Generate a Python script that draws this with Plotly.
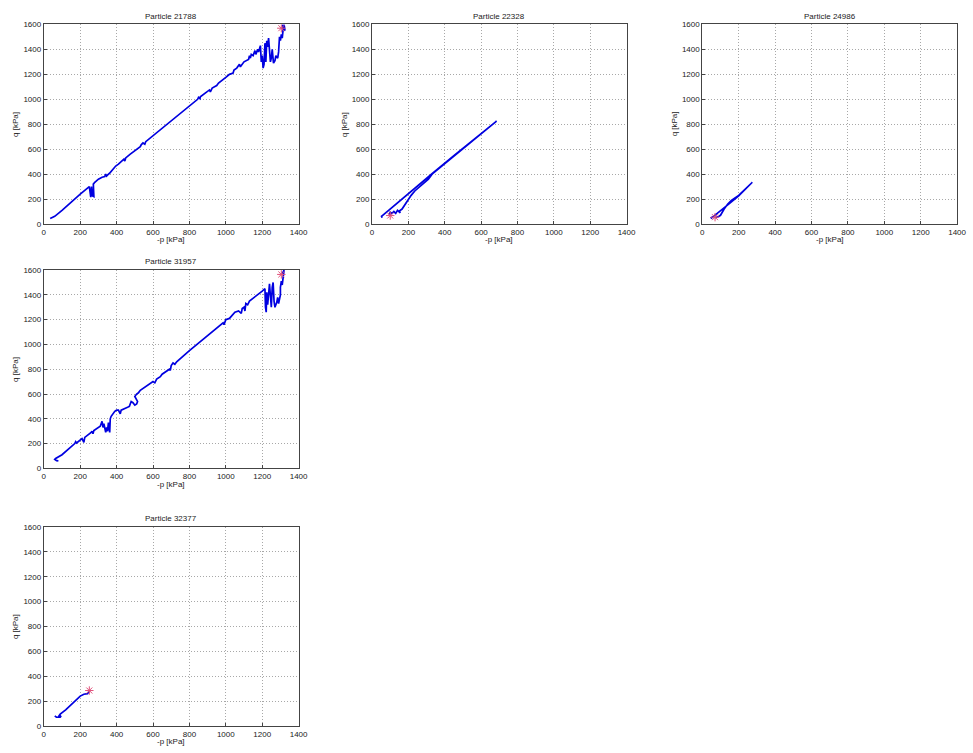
import plotly.graph_objects as go

W, H = 973, 753

# ---- data: stress paths (-p, q) in kPa for each tracked particle ----
names = ["Particle 21788", "Particle 22328", "Particle 24986", "Particle 31957", "Particle 32377"]

p_21788 = [35, 50, 45, 40, 60, 100, 160, 200, 250, 255, 258, 262, 268, 275, 272, 280, 300, 320, 335, 340, 345, 355,
           360, 395, 410, 440, 445, 450, 465, 475, 530, 535, 545, 555, 560, 700, 845, 850, 858, 860, 900, 910, 915,
           925, 950, 960, 1000, 1020, 1040, 1045, 1060, 1075, 1080, 1100, 1125, 1130, 1135, 1140, 1150, 1160, 1165,
           1175, 1180, 1190, 1195, 1200, 1205, 1210, 1215, 1220, 1225, 1230, 1235, 1240, 1245, 1250, 1255, 1262,
           1270, 1275, 1285, 1290, 1295, 1300, 1305, 1310, 1315, 1312, 1320, 1325, 1320]
q_21788 = [45, 55, 50, 45, 62, 110, 190, 240, 300, 230, 215, 300, 225, 220, 320, 335, 360, 375, 380, 400, 385, 400,
           405, 465, 480, 520, 505, 530, 550, 560, 620, 635, 650, 640, 660, 830, 1000, 1015, 1005, 1020, 1065, 1075,
           1060, 1090, 1110, 1130, 1175, 1200, 1210, 1235, 1250, 1280, 1260, 1300, 1320, 1350, 1330, 1360, 1350,
           1390, 1360, 1400, 1380, 1430, 1300, 1350, 1250, 1280, 1450, 1300, 1470, 1420, 1490, 1350, 1300, 1330,
           1400, 1290, 1310, 1350, 1330, 1380, 1500, 1470, 1520, 1490, 1560, 1600, 1580, 1550, 1600]
star_21788 = (1305, 1570)

p_22328 = [55, 52, 60, 150, 240, 330, 450, 560, 680, 685, 600, 450, 330, 310, 290, 260, 235, 215, 200, 180, 165,
           150, 155, 140, 130, 120, 110, 100, 95, 100]
q_22328 = [50, 62, 72, 180, 292, 403, 548, 680, 820, 825, 722, 545, 400, 360, 335, 300, 265, 230, 195, 150, 120,
           105, 90, 110, 85, 100, 85, 95, 80, 70]
star_22328 = (100, 68)

p_24986 = [55, 50, 60, 80, 110, 150, 200, 275, 270, 200, 160, 140, 120, 110, 100, 90, 80, 70]
q_24986 = [45, 50, 60, 85, 120, 165, 225, 335, 330, 230, 190, 160, 120, 90, 70, 60, 55, 50]
star_24986 = (70, 55)

p_31957 = [80, 70, 60, 65, 100, 170, 175, 180, 210, 215, 220, 225, 230, 260, 265, 270, 275, 310, 320, 325, 330,
           340, 345, 350, 355, 360, 362, 365, 370, 390, 400, 410, 420, 425, 440, 460, 470, 480, 490, 500, 510, 515,
           505, 500, 510, 520, 530, 540, 560, 600, 610, 620, 640, 650, 690, 695, 700, 710, 720, 730, 800, 900, 975,
           985, 990, 1000, 1020, 1050, 1070, 1080, 1085, 1090, 1100, 1105, 1110, 1120, 1130, 1200, 1215, 1218, 1222,
           1225, 1230, 1240, 1245, 1250, 1255, 1260, 1265, 1270, 1280, 1285, 1290, 1295, 1300, 1300, 1305, 1310,
           1315, 1320, 1310]
q_31957 = [60, 62, 72, 80, 110, 200, 215, 205, 240, 220, 210, 250, 255, 290, 300, 280, 305, 340, 380, 330, 360,
           290, 330, 300, 370, 310, 290, 400, 420, 460, 470, 470, 440, 470, 480, 490, 500, 540, 530, 510, 520, 540,
           560, 580, 600, 610, 630, 640, 660, 700, 690, 720, 740, 760, 800, 790, 830, 850, 840, 860, 950, 1070, 1160,
           1175, 1160, 1200, 1210, 1260, 1270, 1260, 1250, 1290, 1300, 1270, 1330, 1320, 1350, 1430, 1450, 1300,
           1260, 1420, 1320, 1490, 1400, 1300, 1460, 1500, 1350, 1300, 1340, 1380, 1330, 1360, 1400, 1460, 1510,
           1480, 1540, 1600, 1570]
star_31957 = (1305, 1565)

p_32377 = [60, 70, 90, 95, 80, 90, 120, 150, 180, 200, 220, 240, 250]
q_32377 = [80, 70, 70, 80, 75, 95, 130, 170, 210, 240, 255, 260, 280]
star_32377 = (250, 285)

x_ticks = [0, 200, 400, 600, 800, 1000, 1200, 1400]
y_ticks = [0, 200, 400, 600, 800, 1000, 1200, 1400, 1600]

paths = [(p_21788, q_21788, star_21788), (p_22328, q_22328, star_22328), (p_24986, q_24986, star_24986),
         (p_31957, q_31957, star_31957), (p_32377, q_32377, star_32377)]

# ---- panel placement in pixels: (left, right, top, bottom) ----
boxes = [(42.3, 300.0, 20.7, 222.7), (374.3, 631.7, 20.7, 222.7), (708.3, 966.0, 20.7, 222.7),
         (42.3, 300.0, 269.3, 470.0), (42.3, 300.0, 529.3, 730.7)]

FONT = "Liberation Sans, Arial, sans-serif"
fig = go.Figure()
layout = dict(width=W, height=H, margin=dict(l=0, r=0, t=0, b=0), paper_bgcolor="white",
              plot_bgcolor="white", showlegend=False, font=dict(family=FONT, size=8, color="#222"))
annotations = []

for i, ((px, qy, star), (l, r, t, b), name) in enumerate(zip(paths, boxes, names)):
    k = "" if i == 0 else str(i + 1)
    fig.add_trace(go.Scatter(x=px, y=qy, mode="lines", line=dict(color="#0000e0", width=1.7),
                             xaxis="x" + k, yaxis="y" + k))
    fig.add_trace(go.Scatter(x=[star[0]], y=[star[1]], mode="markers",
                             marker=dict(symbol="asterisk-open", size=7, color="#e0507a",
                                         line=dict(color="#e0507a", width=1)),
                             xaxis="x" + k, yaxis="y" + k))
    common = dict(showline=True, linecolor="#444", linewidth=1, mirror=True, ticks="inside", ticklen=3,
                  tickcolor="#444", showgrid=True, gridcolor="#a8a8a8", griddash="1px,2px", gridwidth=1,
                  zeroline=False, tickfont=dict(size=8, family=FONT, color="#222"))
    layout["xaxis" + k] = dict(common, domain=[l / W, r / W], range=[0, 1400], tickvals=x_ticks,
                               anchor="y" + k)
    layout["yaxis" + k] = dict(common, domain=[1 - b / H, 1 - t / H], range=[0, 1600], tickvals=y_ticks,
                               anchor="x" + k)
    cx = (l + r) / 2
    annotations.append(dict(text=name, x=cx / W, y=1 - (t - 8.5) / H, xref="paper", yref="paper",
                            showarrow=False, font=dict(size=8, family=FONT, color="#222"),
                            xanchor="center", yanchor="middle"))
    annotations.append(dict(text="-p [kPa]", x=cx / W, y=1 - (b + 16) / H, xref="paper", yref="paper",
                            showarrow=False, font=dict(size=8, family=FONT, color="#222"),
                            xanchor="center", yanchor="middle"))
    annotations.append(dict(text="q [kPa]", x=(l - 28.5) / W, y=1 - ((t + b) / 2) / H, xref="paper",
                            yref="paper", showarrow=False, textangle=-90,
                            font=dict(size=8, family=FONT, color="#222"),
                            xanchor="center", yanchor="middle"))

layout["annotations"] = annotations
fig.update_layout(**layout)
fig.write_html("out.html")
